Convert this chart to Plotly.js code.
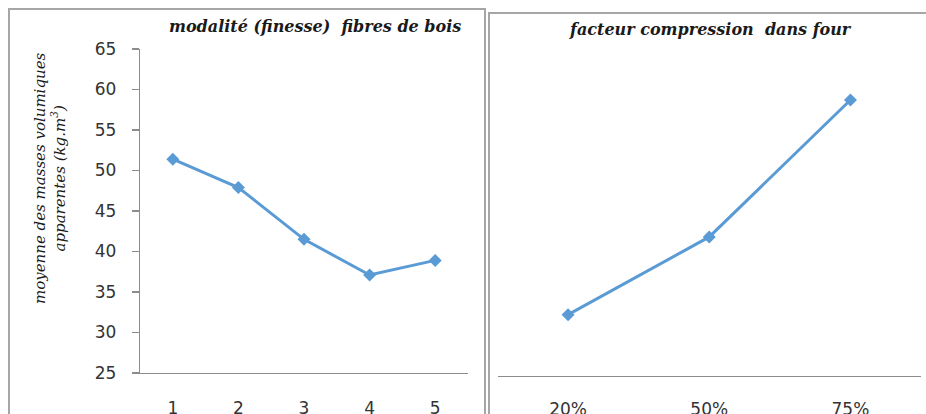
<!DOCTYPE html>
<html>
<head>
<meta charset="utf-8">
<script src="https://cdn.plot.ly/plotly-3.0.1.min.js"></script>
<style>html,body{margin:0;padding:0;background:#fff;}#chart{width:926px;height:414px;}</style>
</head>
<body>
<div id="chart"></div>
<script>
const categoriesLeft = ['1', '2', '3', '4', '5'];
const valuesLeft = [51.4, 47.9, 41.5, 37.1, 38.9];
const categoriesRight = ['20%', '50%', '75%'];
const valuesRight = [32.2, 41.8, 58.7];
const yTicks = [25, 30, 35, 40, 45, 50, 55, 60, 65];
const titleLeft = 'modalité (finesse)  fibres de bois';
const titleRight = 'facteur compression  dans four';
const yTitle = 'moyenne des masses volumiques<br>apparentes (kg.m<sup>3</sup>)';

const W = 926, H = 414;
const px = v => v / W;
const py = v => (H - v) / H;

const lineStyle = {color: '#5B9BD5', width: 3};
const markerStyle = {symbol: 'diamond', size: 10, color: '#5B9BD5'};

const traces = [
  {x: categoriesLeft, y: valuesLeft, type: 'scatter', mode: 'lines+markers',
   line: lineStyle, marker: markerStyle, xaxis: 'x', yaxis: 'y', hoverinfo: 'skip'},
  {x: categoriesRight, y: valuesRight, type: 'scatter', mode: 'lines+markers',
   line: lineStyle, marker: markerStyle, xaxis: 'x2', yaxis: 'y2', hoverinfo: 'skip'}
];

const tickFont = {family: 'DejaVu Sans', size: 17, color: '#333333'};
const serif = 'DejaVu Serif';
const scale = (373 - 49) / 40;

const layout = {
  width: W, height: H, autosize: false,
  margin: {l: 0, r: 0, t: 0, b: 0, pad: 0},
  paper_bgcolor: '#ffffff', plot_bgcolor: 'rgba(0,0,0,0)',
  showlegend: false,
  xaxis: {
    domain: [px(140), px(468)], anchor: 'y', type: 'category',
    range: [-0.5, 4.5], showgrid: false, zeroline: false,
    showline: true, linecolor: '#8C8C8C', linewidth: 1.3,
    ticks: '', tickfont: tickFont, ticklabelstandoff: 19, fixedrange: true
  },
  yaxis: {
    domain: [py(373), py(49)], anchor: 'x', range: [25, 65],
    tickvals: yTicks, ticktext: yTicks.map(String),
    showgrid: false, zeroline: false,
    showline: true, linecolor: '#8C8C8C', linewidth: 1.3,
    ticks: 'outside', ticklen: 7, tickcolor: '#8C8C8C', tickwidth: 1.3,
    tickfont: tickFont, ticklabelstandoff: 12, fixedrange: true
  },
  xaxis2: {
    domain: [px(497.5), px(921)], anchor: 'y2', type: 'category',
    range: [-0.5, 2.5], showgrid: false, zeroline: false,
    showline: true, linecolor: '#8C8C8C', linewidth: 1.3,
    ticks: '', tickfont: tickFont, ticklabelstandoff: 17, fixedrange: true
  },
  yaxis2: {
    domain: [py(376), py(49)], anchor: 'x2',
    range: [65 - (376 - 49) / scale, 65],
    visible: false, showgrid: false, zeroline: false, fixedrange: true
  },
  shapes: [
    {type: 'rect', xref: 'paper', yref: 'paper', x0: px(9), x1: px(485), y0: -0.2, y1: py(9),
     line: {color: '#A6A6A6', width: 2}, fillcolor: 'rgba(0,0,0,0)', layer: 'below'},
    {type: 'rect', xref: 'paper', yref: 'paper', x0: px(489), x1: 1.2, y0: -0.2, y1: py(13),
     line: {color: '#A6A6A6', width: 2}, fillcolor: 'rgba(0,0,0,0)', layer: 'below'}
  ],
  annotations: [
    {text: '<b><i>' + titleLeft + '</i></b>', xref: 'paper', yref: 'paper',
     x: px(315), y: py(27), xanchor: 'center', yanchor: 'middle', showarrow: false,
     font: {family: serif, size: 16, color: '#1a1a1a'}},
    {text: '<b><i>' + titleRight + '</i></b>', xref: 'paper', yref: 'paper',
     x: px(710), y: py(30), xanchor: 'center', yanchor: 'middle', showarrow: false,
     font: {family: serif, size: 16, color: '#1a1a1a'}},
    {text: '<i>' + yTitle + '</i>', xref: 'paper', yref: 'paper',
     x: px(50), y: py(178), xanchor: 'center', yanchor: 'middle', showarrow: false,
     textangle: -90,
     font: {family: serif, size: 15, color: '#1a1a1a'}}
  ]
};

Plotly.newPlot('chart', traces, layout, {staticPlot: true, displayModeBar: false});
</script>
</body>
</html>
